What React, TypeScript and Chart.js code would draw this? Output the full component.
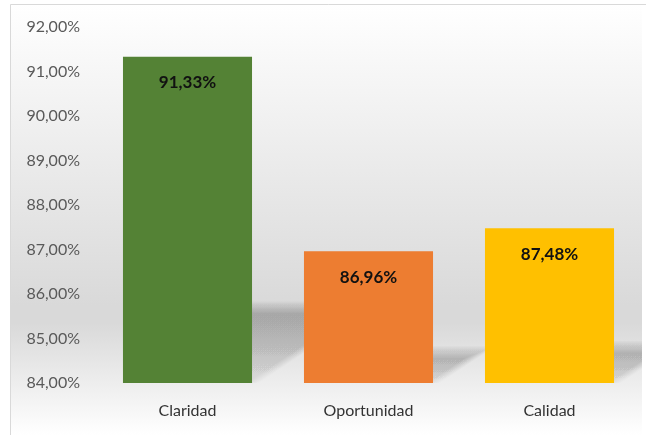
import React, { useEffect, useRef } from "react";
import { Chart, registerables } from "chart.js";

Chart.register(...registerables);

const categories = ["Claridad", "Oportunidad", "Calidad"];
const values = [91.33, 86.96, 87.48];
const barColors = ["#548235", "#ED7D31", "#FFC000"];
const yMin = 84;
const yMax = 92;
const yStep = 1;

const fmt = (v: number) => v.toFixed(2).replace(".", ",") + "%";

function drawShadows(chart: any) {
  const ctx = chart.ctx;
  const yScale = chart.scales.y;
  const xScale = chart.scales.x;
  const base = yScale.getPixelForValue(yMin);
  const catW = xScale.width / categories.length;
  const barW = catW * 0.713;
  ctx.save();
  ctx.beginPath();
  ctx.rect(11, 5, 631, 430);
  ctx.clip();
  values.forEach((v, i) => {
    const x = xScale.getPixelForValue(i);
    const y = yScale.getPixelForValue(v);
    const h = base - y;
    const sh = h * 0.23;
    const dx = sh * 1.5;
    const left = x - barW / 2;
    const right = x + barW / 2;
    const top = base - sh;
    const layers = 10;
    for (let k = 0; k < layers; k++) {
      const shrink = (k - layers / 2) * 1.3;
      const t = top + shrink;
      if (t >= base - 2) continue;
      const g = ctx.createLinearGradient(0, t, 0, base);
      g.addColorStop(0, "rgba(0,0,0,0.026)");
      g.addColorStop(0.5, "rgba(0,0,0,0.018)");
      g.addColorStop(1, "rgba(0,0,0,0.006)");
      ctx.fillStyle = g;
      ctx.beginPath();
      const ratio = (base - t) / sh;
      const ddx = dx * ratio;
      ctx.moveTo(left + ddx, t);
      ctx.lineTo(right + ddx - shrink, t);
      ctx.lineTo(right - shrink, base);
      ctx.lineTo(left, base);
      ctx.closePath();
      ctx.fill();
    }
  });
  ctx.restore();
}

const bgPlugin = {
  id: "bgPlugin",
  beforeDraw(chart: any) {
    const ctx = chart.ctx;
    const x0 = 10, y0 = 4, x1 = 642, y1 = 435;
    ctx.save();
    const g = ctx.createLinearGradient(0, y0, 0, y1);
    g.addColorStop(0, "#ffffff");
    g.addColorStop(0.7, "#d9d9d9");
    g.addColorStop(0.74, "#d9d9d9");
    g.addColorStop(1, "#ffffff");
    ctx.fillStyle = g;
    ctx.fillRect(x0, y0, x1 - x0, y1 - y0);
    ctx.strokeStyle = "#d9d9d9";
    ctx.lineWidth = 1;
    ctx.beginPath();
    ctx.moveTo(x0 + 0.5, y1);
    ctx.lineTo(x0 + 0.5, y0 + 0.5);
    ctx.lineTo(646, y0 + 0.5);
    ctx.stroke();
    ctx.restore();
    drawShadows(chart);
  },
  afterDatasetsDraw(chart: any) {
    const ctx = chart.ctx;
    const meta = chart.getDatasetMeta(0);
    ctx.save();
    ctx.font = "bold 17px Lato";
    ctx.fillStyle = "#111111";
    ctx.textAlign = "center";
    ctx.textBaseline = "middle";
    meta.data.forEach((bar: any, i: number) => {
      ctx.fillText(fmt(values[i]), bar.x, bar.y + 26);
    });
    ctx.restore();
  },
};

export default function App() {
  const ref = useRef<HTMLCanvasElement>(null);
  useEffect(() => {
    if (!ref.current) return;
    const chart = new Chart(ref.current, {
      type: "bar",
      data: {
        labels: categories,
        datasets: [
          {
            data: values,
            backgroundColor: barColors,
            borderWidth: 0,
            categoryPercentage: 1,
            barPercentage: 0.713,
          },
        ],
      },
      options: {
        animation: false,
        responsive: false,
        events: [],
        layout: { padding: { top: 27, right: 9, left: 0, bottom: 0 } },
        plugins: {
          legend: { display: false },
          tooltip: { enabled: false },
        },
        scales: {
          x: {
            grid: { display: false, drawTicks: false },
            border: { display: false },
            ticks: {
              color: "#333333",
              font: { family: "Lato", size: 16 },
              padding: 18,
            },
            afterFit(scale: any) {
              scale.height = 52;
            },
          },
          y: {
            min: yMin,
            max: yMax,
            grid: { display: false, drawTicks: false },
            border: { display: false },
            ticks: {
              stepSize: yStep,
              color: "#595959",
              font: { family: "Lato", size: 16 },
              padding: 17,
              callback: (v: any) => fmt(Number(v)),
            },
            afterFit(scale: any) {
              scale.width = 97;
            },
          },
        },
      },
      plugins: [bgPlugin],
    });
    return () => chart.destroy();
  }, []);
  return (
    <div style={{ position: "fixed", left: 0, top: 0, width: 649, height: 435, background: "#fff" }}>
      <canvas ref={ref} width={649} height={435} style={{ width: 649, height: 435, display: "block" }} />
    </div>
  );
}
